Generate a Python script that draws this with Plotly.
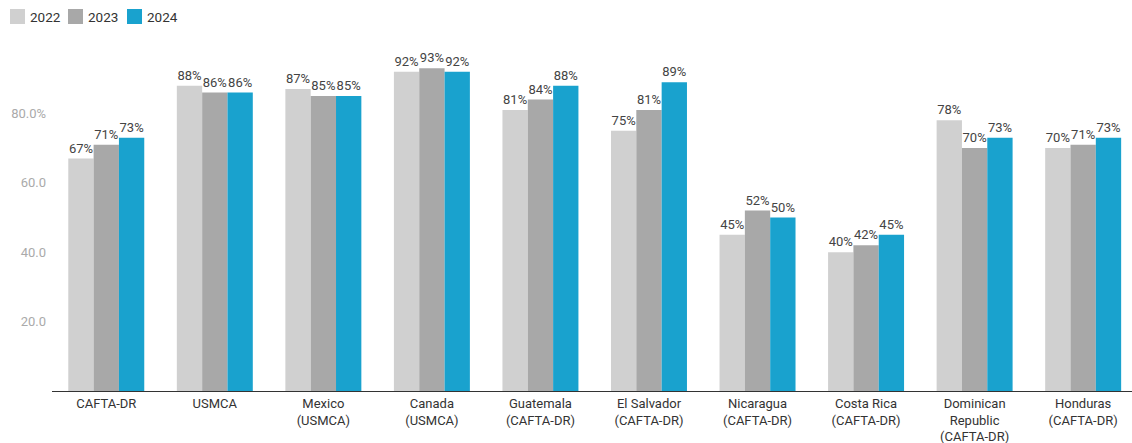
import plotly.graph_objects as go

categories = ["CAFTA-DR", "USMCA", "Mexico<br>(USMCA)", "Canada<br>(USMCA)", "Guatemala<br>(CAFTA-DR)",
              "El Salvador<br>(CAFTA-DR)", "Nicaragua<br>(CAFTA-DR)", "Costa Rica<br>(CAFTA-DR)",
              "Dominican<br>Republic<br>(CAFTA-DR)", "Honduras<br>(CAFTA-DR)"]
v2022 = [67, 88, 87, 92, 81, 75, 45, 40, 78, 70]
v2023 = [71, 86, 85, 93, 84, 81, 52, 42, 70, 71]
v2024 = [73, 86, 85, 92, 88, 89, 50, 45, 73, 73]
series_names = ["2022", "2023", "2024"]
colors = ["#d0d0d0", "#a8a8a8", "#19a2ce"]
tick_vals = [20, 40, 60, 80]
tick_text = ["20.0", "40.0", "60.0", "80.0%"]

W, H = 1132, 443
ML, MR, MT, MB = 52, 0, 44, 52
PW = W - ML - MR
PH = H - MT - MB

fig = go.Figure()
for name, vals, col in zip(series_names, [v2022, v2023, v2024], colors):
    fig.add_trace(go.Bar(
        x=categories, y=vals, name=name, marker=dict(color=col, line=dict(width=0)),
        text=[f"{v}%" for v in vals], textposition="outside", cliponaxis=False,
        textfont=dict(family="Roboto", size=13, color="#444444"), showlegend=False,
    ))

# manual legend (squares + text), positioned in pixels
legend_x = [10, 68, 127]
for lx, name, col in zip(legend_x, series_names, colors):
    x0 = (lx - ML) / PW
    x1 = (lx + 15 - ML) / PW
    y0 = (H - MB - 24) / PH
    y1 = (H - MB - 9) / PH
    fig.add_shape(type="rect", xref="paper", yref="paper", x0=x0, x1=x1, y0=y0, y1=y1,
                  fillcolor=col, line=dict(width=0))
    fig.add_annotation(xref="paper", yref="paper", x=(lx + 18 - ML) / PW, y=(H - MB - 16.5) / PH,
                       text=name, showarrow=False, xanchor="left", yanchor="middle",
                       font=dict(family="Roboto", size=13.5, color="#333333"))

fig.update_layout(
    width=W, height=H,
    margin=dict(l=ML, r=MR, t=MT, b=MB),
    barmode="group", bargap=0.3, bargroupgap=0,
    plot_bgcolor="white", paper_bgcolor="white",
    font=dict(family="Roboto", size=13, color="#333333"),
    showlegend=False,
)
fig.update_xaxes(showline=True, linecolor="#333333", linewidth=1, showgrid=False, ticks="",
                 range=[-0.5, 9.45], tickfont=dict(size=13, color="#333333"))
fig.update_yaxes(range=[0, 100], tickvals=tick_vals, ticktext=tick_text, showgrid=False,
                 zeroline=False, showline=False, ticks="", ticklabelstandoff=5,
                 tickfont=dict(size=13, color="#aaaaaa"))

fig.write_html("out.html")
